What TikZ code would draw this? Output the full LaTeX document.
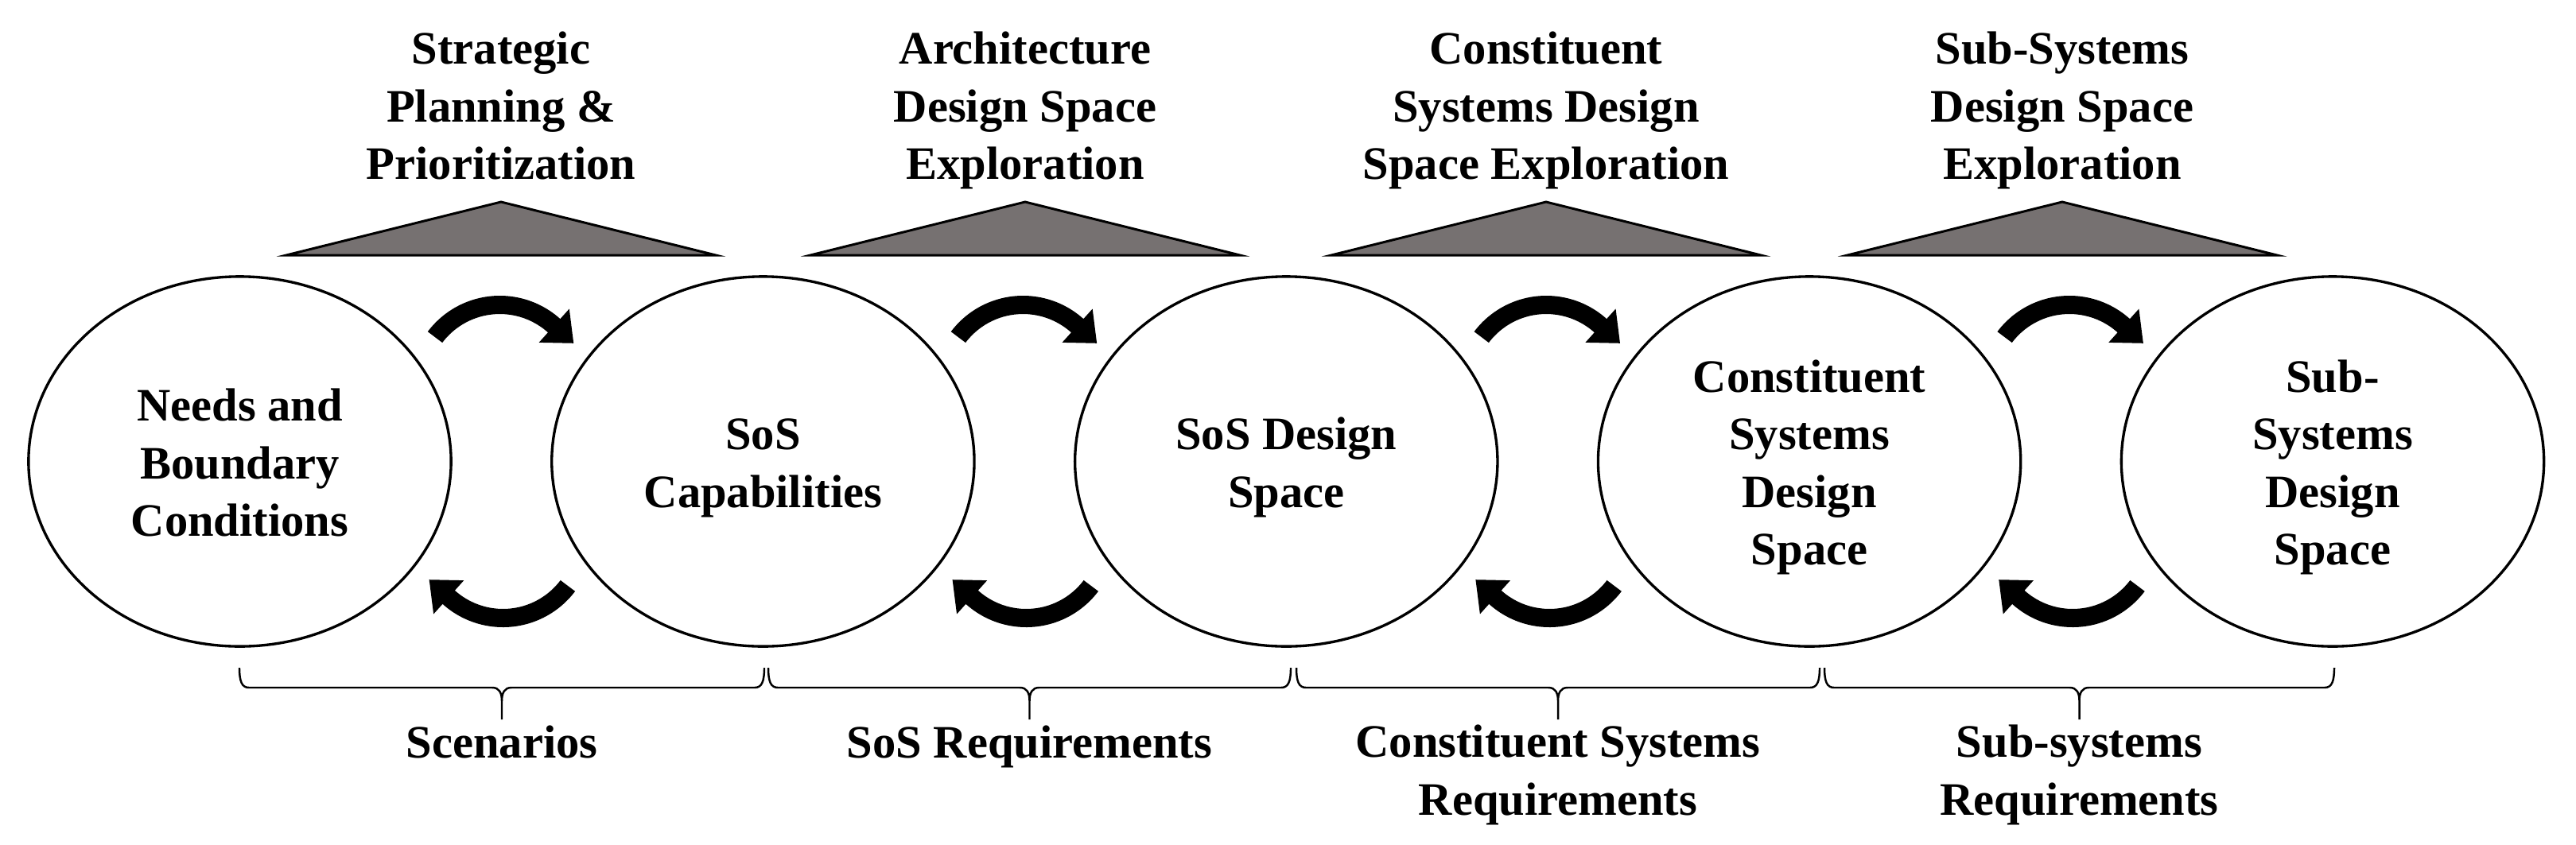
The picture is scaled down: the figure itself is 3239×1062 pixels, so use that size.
\documentclass[tikz,border=0pt]{standalone}
\usepackage{fontspec}
\setmainfont{Liberation Serif}
\usetikzlibrary{calc,shapes.geometric}
\definecolor{trigray}{RGB}{118,113,113}
\newcommand\myTop{\rule{0pt}{17.07pt}}
\newcommand\myBot{\rule[-4.84pt]{0pt}{4.84pt}}
\begin{document}
\begin{tikzpicture}[x=0.01cm,y=0.01cm,
  lbl/.style={font=\fontsize{16.65pt}{20.5pt}\selectfont\bfseries, align=center, inner sep=0pt},
  bubble/.style={lbl, ellipse, draw, line width=0.95pt, minimum width=5.31cm, minimum height=4.65cm, inner sep=0pt},
  tri/.style={fill=trigray, draw=black, line width=0.85pt, line join=miter},
  brc/.style={draw, line width=0.7pt},
  bendarrow/.style={fill=black}]
\fill[white] (0,0) rectangle (3239,1062);
\useasboundingbox (0,0) rectangle (3239,1062);

% ellipses
\node[bubble] (e1) at (301.5,481.5) {\myTop Needs and\\Boundary\\Conditions\myBot};
\node[bubble] (e2) at (959.4,481.5) {\myTop SoS\\Capabilities\myBot};
\node[bubble] (e3) at (1617.3,481.5) {\myTop SoS Design\\Space\myBot};
\node[bubble] (e4) at (2275.1,481.5) {\myTop Constituent\\Systems\\Design\\Space\myBot};
\node[bubble] (e5) at (2933,481.5) {\myTop Sub-\\Systems\\Design\\Space\myBot};

% triangles
\foreach \tx in {630,1289,1944,2593} {
  \draw[tri] (\tx-270,741) -- (\tx,808) -- (\tx+270,741) -- cycle;
}

% titles
\node[lbl] (t1) at (630,930.5) {\myTop Strategic\\Planning \&\\Prioritization\myBot};
\node[lbl] (t2) at (1289,930.5) {\myTop Architecture\\Design Space\\Exploration\myBot};
\node[lbl] (t3) at (1944,930.5) {\myTop Constituent\\Systems Design\\Space Exploration\myBot};
\node[lbl] (t4) at (2593,930.5) {\myTop Sub-Systems\\Design Space\\Exploration\myBot};

% curved arrows
\foreach \a/\b [count=\i] in {e1/e2,e2/e3,e3/e4,e4/e5} {
  \coordinate (g\i) at ($(\a.east)!0.5!(\b.west)$);
  \coordinate (ct\i) at ($(g\i)+(-2,95)$);
  \coordinate (cb\i) at ($(g\i)+(2,-95)$);
  \fill[bendarrow] ($(ct\i)+(143:113.5)$) arc[start angle=143,end angle=48,radius=113.5]
     -- ($(ct\i)+(48:130.5)$) -- ($(ct\i)+(48:102)+(-42:33)$) -- ($(ct\i)+(48:73.5)$)
     -- ($(ct\i)+(48:90.5)$) arc[start angle=48,end angle=143,radius=90.5] -- cycle;
  \fill[bendarrow] ($(cb\i)+(323:113.5)$) arc[start angle=323,end angle=228,radius=113.5]
     -- ($(cb\i)+(228:130.5)$) -- ($(cb\i)+(228:102)+(138:33)$) -- ($(cb\i)+(228:73.5)$)
     -- ($(cb\i)+(228:90.5)$) arc[start angle=228,end angle=323,radius=90.5] -- cycle;
}

% braces
\foreach \xa/\xb in {301/961,966/1623,1630/2288,2294/2935} {
  \pgfmathsetmacro\m{(\xa+\xb)/2}
  \draw[brc] (\xa,222) .. controls (\xa,205) and (\xa+3,197) .. (\xa+12,197)
     -- (\m-12,197) .. controls (\m-3,197) and (\m,190) .. (\m,180) -- (\m,157)
     (\m,180) .. controls (\m,190) and (\m+3,197) .. (\m+12,197)
     -- (\xb-12,197) .. controls (\xb-3,197) and (\xb,205) .. (\xb,222);
}

% bottom labels
\node[lbl] (l1) at (631,130.5) {\myTop Scenarios\myBot};
\node[lbl] (l2) at (1294.5,130.5) {\myTop SoS Requirements\myBot};
\node[lbl] (l3) at (1959,94.5) {\myTop Constituent Systems\\Requirements\myBot};
\node[lbl] (l4) at (2614.5,94.5) {\myTop Sub-systems\\Requirements\myBot};
\end{tikzpicture}
\end{document}
